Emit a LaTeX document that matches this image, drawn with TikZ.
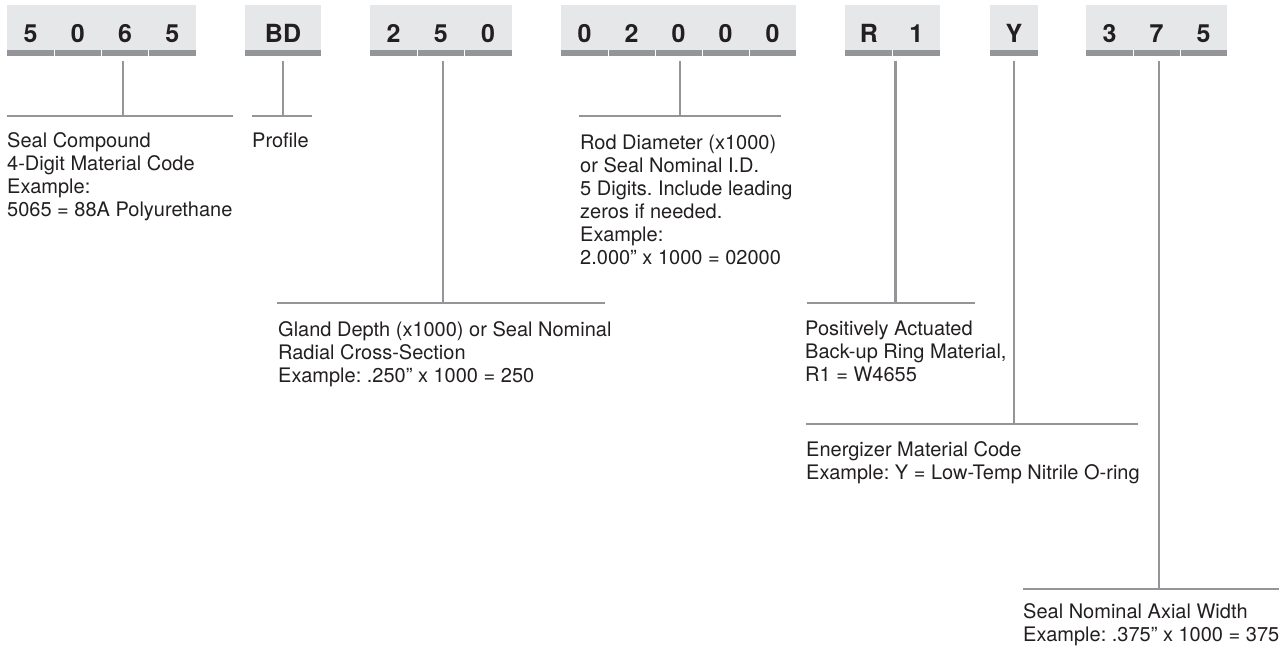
\documentclass[tikz,border=0pt]{standalone}
\usepackage{fontspec}
\setmainfont{TeX Gyre Heros}
\frenchspacing
\definecolor{boxgray}{HTML}{E6E7E8}
\definecolor{bargray}{HTML}{939598}
\definecolor{txt}{HTML}{231F20}
\newcommand{\firstline}{\rule{0pt}{15pt}}
\newcommand{\inch}{\char34\relax}
\begin{document}
\begin{tikzpicture}[x=1pt,y=-1pt,
  cellbox/.style={draw=none,fill=boxgray,inner sep=0pt,anchor=north west,minimum height=45pt},
  digit/.style={anchor=base,inner sep=0pt,text=txt,font=\fontsize{25}{29}\selectfont\bfseries},
  desc/.style={anchor=north west,inner sep=0pt,align=left,text=txt,font=\fontsize{20}{23}\selectfont},
  conn/.style={draw=bargray,line width=2.6pt}]
\useasboundingbox (0,0) rectangle (1286,651);
% boxes: name, left, number of cells, cell width
\newcommand{\codebox}[4]{%
  \node[cellbox,minimum width=#3*#4 pt] (#1) at (#2,5) {};
  \fill[bargray] (#2,50) rectangle ++(#3*#4,6);
  \foreach \k in {1,...,#3}{\ifnum\k<#3\relax\fill[white] (#2+\k*#4-0.5,50) rectangle ++(1,6);\fi}%
}
\codebox{g1}{7}{4}{47.25}
\codebox{g2}{245}{1}{76}
\codebox{g3}{370}{3}{47.17}
\codebox{g4}{561}{5}{47}
\codebox{g5}{845}{2}{47.5}
\codebox{g6}{990}{1}{48}
\codebox{g7}{1086}{3}{47}
% digits
\node[digit] (d11) at (30.6,42) {5};
\node[digit] (d12) at (77.9,42) {0};
\node[digit] (d13) at (125.1,42) {6};
\node[digit] (d14) at (172.4,42) {5};
\node[digit] (d21) at (283,42) {BD};
\node[digit] (d31) at (393.6,42) {2};
\node[digit] (d32) at (440.8,42) {5};
\node[digit] (d33) at (488,42) {0};
\node[digit] (d41) at (584.5,42) {0};
\node[digit] (d42) at (631.5,42) {2};
\node[digit] (d43) at (678.5,42) {0};
\node[digit] (d44) at (725.5,42) {0};
\node[digit] (d45) at (772.5,42) {0};
\node[digit] (d51) at (868.8,42) {R};
\node[digit] (d52) at (916.3,42) {1};
\node[digit] (d61) at (1014,42) {Y};
\node[digit] (d71) at (1109.5,42) {3};
\node[digit] (d72) at (1156.5,42) {7};
\node[digit] (d73) at (1203.5,42) {5};
% connector coordinates
\coordinate (t1) at (123,61);  \coordinate (j1) at (123,116);
\coordinate (l1) at (7,116);   \coordinate (r1) at (233,116);
\coordinate (t2) at (283,61);  \coordinate (j2) at (283,116);
\coordinate (l2) at (252,116); \coordinate (r2) at (312,116);
\coordinate (t3) at (443,61);  \coordinate (j3) at (443,303);
\coordinate (l3) at (277,303); \coordinate (r3) at (605,303);
\coordinate (t4) at (680,61);  \coordinate (j4) at (680,116);
\coordinate (l4) at (579,116); \coordinate (r4) at (781,116);
\coordinate (t5) at (895.5,61);  \coordinate (j5) at (895.5,303);
\coordinate (l5) at (807,303); \coordinate (r5) at (975,303);
\coordinate (t6) at (1014,61); \coordinate (j6) at (1014,424);
\coordinate (l6) at (806,424); \coordinate (r6) at (1138,424);
\coordinate (t7) at (1159,61); \coordinate (j7) at (1159,589);
\coordinate (l7) at (1023,589); \coordinate (r7) at (1279,589);
\foreach \i in {1,...,7}{
  \draw[conn] (t\i) -- (j\i);
  \draw[conn] (l\i) -- (r\i);
}
% descriptions (north = first baseline - 15)
\node[desc] (e1) at (7,132) {\firstline Seal Compound\\4-Digit Material Code\\Example:\\5065 = 88A Polyurethane};
\node[desc] (e2) at (252,132) {\firstline Profile};
\node[desc] (e3) at (278,321) {\firstline Gland Depth (x1000) or Seal Nominal\\Radial Cross-Section\\Example: .250\inch{} x 1000 = 250};
\node[desc] (e4) at (580,134) {\firstline Rod Diameter (x1000)\\or Seal Nominal I.D.\\5 Digits. Include leading\\zeros if needed.\\Example:\\2.000\inch{} x 1000 = 02000};
\node[desc] (e5) at (805,320) {\firstline Positively Actuated\\Back-up Ring Material,\\R1 = W4655};
\node[desc] (e6) at (806,441) {\firstline Energizer Material Code\\Example: Y = Low-Temp Nitrile O-ring};
\node[desc] (e7) at (1023,603) {\firstline Seal Nominal Axial Width\\Example: .375\inch{} x 1000 = 375};
\end{tikzpicture}
\end{document}
